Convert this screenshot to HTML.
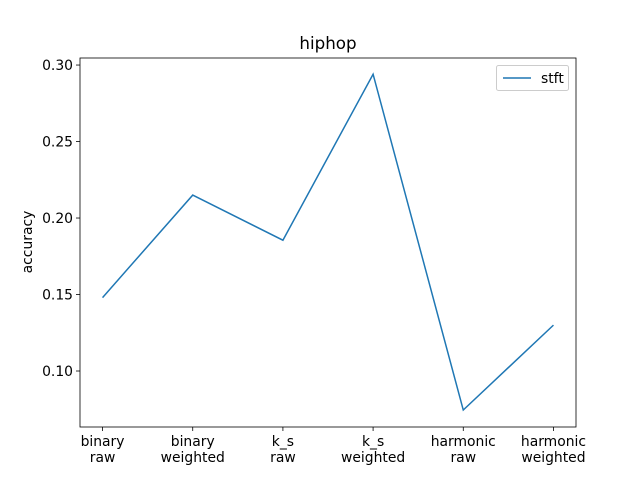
<!DOCTYPE html>
<html><head><meta charset="utf-8"><style>body{margin:0;background:#fff}svg{font-family:"DejaVu Sans","Liberation Sans",sans-serif}</style></head>
<body>
<svg id="c" width="640" height="480" xmlns="http://www.w3.org/2000/svg"></svg>
<script>
const categories = [["binary","raw"],["binary","weighted"],["k_s","raw"],["k_s","weighted"],["harmonic","raw"],["harmonic","weighted"]];
const stftValues = [0.148, 0.215, 0.1855, 0.294, 0.0745, 0.130];
const yTicks = [0.10, 0.15, 0.20, 0.25, 0.30];
const yTickLabels = ["0.10","0.15","0.20","0.25","0.30"];
const L=80,R=576,T=58,B=427, yMin=0.0634, yMax=0.3046, xMin=-0.25, xMax=5.25;
const xs=i=>L+(i-xMin)/(xMax-xMin)*(R-L);
const ys=v=>B-(v-yMin)/(yMax-yMin)*(B-T);
const svg=document.getElementById('c');const NS='http://www.w3.org/2000/svg';
function mk(t,a,txt){const e=document.createElementNS(NS,t);for(const k in a)e.setAttribute(k,a[k]);if(txt!=null)e.textContent=txt;svg.appendChild(e);return e;}
let e=mk('text',{x:328,y:49,'text-anchor':'middle','font-size':16.7},'hiphop');


e=mk('text',{x:32,y:242,'text-anchor':'middle','font-size':13.9,transform:'rotate(-90 32 242)'},'accuracy');


yTicks.forEach((v,i)=>{const y=ys(v);
e=mk('line',{x1:L-4,x2:L,y1:y,y2:y,stroke:'#000','stroke-width':0.8});


e=mk('text',{x:L-7,y:y+5,'text-anchor':'end','font-size':13.9},yTickLabels[i]);

});
categories.forEach((c,i)=>{const x=xs(i);
e=mk('line',{x1:x,x2:x,y1:B,y2:B+4,stroke:'#000','stroke-width':0.8});


e=mk('text',{x:x,y:B+19,'text-anchor':'middle','font-size':13.9},c[0]);


e=mk('text',{x:x,y:B+35,'text-anchor':'middle','font-size':13.9},c[1]);

});
e=mk('polyline',{points:stftValues.map((v,i)=>xs(i)+','+ys(v)).join(' '),fill:'none',stroke:'#1f77b4','stroke-width':1.5});


e=mk('rect',{x:L,y:T,width:R-L,height:B-T,fill:'none',stroke:'#000','stroke-width':0.8});


e=mk('rect',{x:496.5,y:65.5,width:72,height:25,rx:2,fill:'#fff',stroke:'#ccc','stroke-width':1});


e=mk('line',{x1:503,x2:531,y1:78,y2:78,stroke:'#1f77b4','stroke-width':1.5});


e=mk('text',{x:541,y:83,'font-size':13.9},'stft');


</script>
</body></html>
